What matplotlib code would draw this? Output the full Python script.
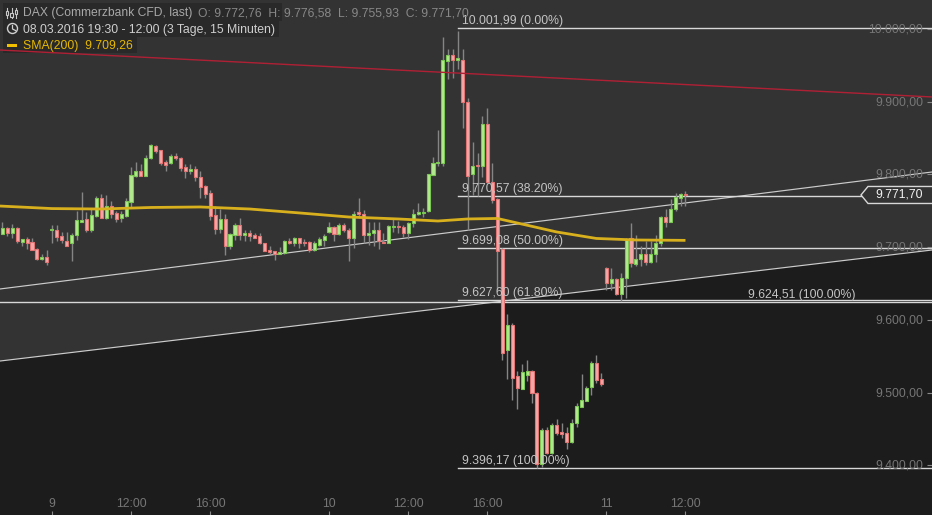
import matplotlib
matplotlib.use('Agg')
from matplotlib import pyplot as plt
from matplotlib.patches import Polygon, Rectangle, Circle
from matplotlib.transforms import ScaledTranslation

plt.rcParams['font.family'] = ['Liberation Sans', 'DejaVu Sans']

# 15 minute candles, one entry per bar
opens = [9718,9726,9719,9726,9707,9711,9707,9698,9683,9687,9724,9724,9715,9709,9705,9716,9735,9738,9723,9743,
         9767,9740,9757,9747,9740,9743,9762,9798,9804,9798,9822,9839,9833,9817,9815,9825,9823,9810,9804,9808,
         9797,9784,9774,9744,9725,9738,9702,9717,9730,9717,9720,9716,9715,9705,9696,9694,9690,9692,9708,9706,
         9712,9707,9707,9696,9703,9710,9721,9728,9718,9730,9723,9713,9748,9745,9717,9720,9724,9707,9706,9727,
         9729,9727,9720,9733,9746,9747,9749,9799,9816,9816,9956,9964,9957,9958,9900,9800,9813,9812,9869,9790,
         9766,9697,9558,9593,9523,9505,9524,9530,9500,9401,9448,9417,9455,9446,9444,9432,9458,9480,9488,9507,
         9541,9519,9671,9651,9656,9635,9657,9713,9677,9683,9691,9679,9691,9705,9741,9735,9753,9768,9772.76]
highs = [9734,9727,9732,9727,9711,9714,9712,9699,9691,9696,9730,9730,9721,9721,9720,9750,9776,9748,9752,9770,
         9773,9772,9764,9749,9749,9767,9810,9817,9814,9827,9842,9840,9834,9820,9828,9830,9824,9814,9814,9812,
         9804,9785,9779,9756,9753,9745,9719,9733,9740,9724,9724,9720,9720,9706,9702,9695,9700,9710,9713,9714,
         9713,9711,9708,9708,9714,9718,9734,9729,9733,9733,9726,9749,9767,9751,9734,9734,9734,9719,9730,9738,
         9736,9730,9735,9752,9761,9754,9801,9824,9861,9989,9973,9972,9997,9972,9905,9844,9829,9880,9891,9815,
         9768,9699,9608,9595,9529,9539,9545,9531,9501,9451,9452,9458,9464,9458,9453,9464,9486,9526,9509,9543,
         9552,9527,9672,9671,9658,9665,9712,9733,9717,9701,9709,9709,9716,9743,9753,9766,9775,9775,9776.58]
lows = [9718,9715,9713,9706,9701,9698,9696,9682,9682,9676,9706,9709,9705,9701,9681,9710,9734,9721,9721,9742,
        9740,9739,9740,9735,9734,9742,9755,9797,9798,9798,9821,9830,9813,9805,9814,9820,9805,9795,9801,9791,
        9768,9767,9737,9718,9719,9689,9698,9710,9710,9708,9708,9712,9704,9695,9690,9682,9690,9691,9704,9702,
        9699,9701,9693,9694,9702,9702,9719,9709,9717,9721,9681,9699,9740,9706,9703,9701,9697,9705,9705,9721,
        9719,9714,9711,9727,9744,9742,9748,9799,9812,9812,9931,9933,9945,9864,9724,9772,9770,9797,9788,9761,
        9641,9545,9519,9490,9477,9505,9516,9486,9396,9398,9416,9416,9442,9437,9422,9431,9452,9480,9488,9497,
        9513,9509,9641,9641,9634,9626,9630,9673,9674,9674,9675,9678,9679,9701,9728,9734,9749,9756,9755.93]
closes = [9726,9719,9726,9709,9711,9706,9696,9683,9687,9679,9725,9714,9710,9701,9716,9737,9737,9723,9744,9768,
          9740,9757,9746,9739,9745,9763,9799,9804,9798,9822,9840,9832,9816,9813,9825,9823,9809,9804,9808,9797,
          9783,9773,9743,9725,9738,9702,9718,9730,9717,9720,9715,9713,9705,9695,9693,9690,9693,9708,9705,9712,
          9705,9706,9696,9705,9711,9715,9727,9718,9731,9723,9713,9746,9745,9717,9720,9724,9708,9706,9729,9729,
          9727,9720,9733,9746,9748,9748,9800,9815,9817,9957,9964,9958,9960,9900,9798,9812,9812,9869,9789,9765,
          9695,9555,9593,9520,9506,9528,9530,9500,9401,9448,9417,9455,9444,9443,9432,9458,9481,9489,9506,9541,
          9517,9512,9651,9656,9635,9657,9711,9678,9683,9691,9679,9691,9705,9741,9734,9753,9769,9773,9771.70]

sma_idx = [-0.5,10,20,30,40,50,60,70,80,88,94,100,104,112,120,128,138]
sma_vals = [9756.5,9753,9752.4,9754.5,9755.2,9752.4,9747,9741.4,9738.7,9735.9,9738.7,9739.4,9733.2,9720.8,9711.9,9709.8,9709.26]

# trend lines, left and right edge of the chart
trend_x = [-0.465, 187.8]
upper_trend = [9642.4, 9803.3]
lower_trend = [9543.3, 9696.0]
red_trend = [9971.1, 9906.5]

# fibonacci levels
fib_start = 92
fib_levels = [10001.99, 9770.57, 9699.08, 9627.60, 9396.17]
fib_labels = ['10.001,99 (0.00%)', '9.770,57 (38.20%)', '9.699,08 (50.00%)', '9.627,60 (61.80%)', '9.396,17 (100.00%)']
ext_level = 9624.51
ext_label = '9.624,51 (100.00%)'
last_close = 9771.70
last_label = '9.771,70'

y_ticks = [10000, 9900, 9800, 9700, 9600, 9500, 9400]
y_labels = ['10.000,00', '9.900,00', '9.800,00', '9.700,00', '9.600,00', '9.500,00', '9.400,00']
x_ticks = [10, 26, 42, 66, 82, 98, 122, 138]
x_labels = ['9', '12:00', '16:00', '10', '12:00', '16:00', '11', '12:00']

BG = '#333333'
BG_DARK = '#1c1c1c'
LINE = '#d8d8d8'
FS = 8.8

fig = plt.figure(figsize=(9.32, 5.15), dpi=100, facecolor=BG)
ax = fig.add_axes([0, 0, 1, 1], facecolor=BG)
ax.set_xlim(-0.465, 187.8)
ax.set_ylim(9331.5, 10039.89)
for s in ax.spines.values():
    s.set_visible(False)

ax.fill_between(trend_x, 9331.5, lower_trend, color=BG_DARK, lw=0, zorder=0)

ax.plot(trend_x, upper_trend, color='#cccccc', lw=0.85, zorder=1)
ax.plot(trend_x, lower_trend, color='#cccccc', lw=0.85, zorder=1)

for lev, lab in zip(fib_levels, fib_labels):
    ax.plot([fib_start, trend_x[1]], [lev, lev], color=LINE, lw=1, zorder=1)
    ax.annotate(lab, (fib_start, lev), xytext=(3, 0.6), textcoords='offset points', color='#c4c4c4',
                fontsize=FS, va='bottom', ha='left', zorder=5)
ax.plot(trend_x, [ext_level, ext_level], color=LINE, lw=1, zorder=1)
ax.annotate(ext_label, (150.6, ext_level), xytext=(0, 0.6), textcoords='offset points', color='#c4c4c4',
            fontsize=FS, va='bottom', ha='left', zorder=5)

# candles
xs = list(range(len(opens)))
for i in xs:
    up = closes[i] >= opens[i]
    edge = '#7cc854' if up else '#e27474'
    fill = '#b4e890' if up else '#f2a8a8'
    ax.vlines(i, lows[i], highs[i], color='#858585', lw=1, zorder=2)
    ax.bar(i, abs(closes[i] - opens[i]), bottom=min(opens[i], closes[i]), width=0.62,
           facecolor=fill, edgecolor=edge, lw=0.8, zorder=3)

ax.plot(sma_idx, sma_vals, color='#d8b01e', lw=2, zorder=4, solid_capstyle='butt')

ax.yaxis.tick_right()
ax.set_yticks(y_ticks)
ax.set_yticklabels(y_labels, fontsize=FS, color='#767676', ha='right')
ax.tick_params(axis='y', direction='in', length=3.5, width=0.8, color='#8a8a8a', pad=-6.5)
up_1px = ScaledTranslation(0, 1 / 100, fig.dpi_scale_trans)
for lab in ax.get_yticklabels():
    lab.set_transform(lab.get_transform() + up_1px)
ax.set_xticks(x_ticks)
ax.set_xticklabels(x_labels, fontsize=FS, color='#767676')
ax.tick_params(axis='x', direction='in', length=3, width=0.8, color='#8a8a8a', pad=-12.5)

# overlay in pixels for legend boxes, icons and the price tag
ov = fig.add_axes([0, 0, 1, 1])
ov.set_xlim(0, 932)
ov.set_ylim(515, 0)
ov.axis('off')
ov.patch.set_alpha(0)

fig.canvas.draw()
tag_y = 515 - ax.transData.transform((0, last_close))[1]
tag = Polygon([(933, tag_y - 8.5), (868, tag_y - 8.5), (861, tag_y), (868, tag_y + 8.5), (933, tag_y + 8.5)],
              closed=False, facecolor=BG, edgecolor=LINE, lw=1, zorder=6)
ov.add_patch(tag)
ov.text(899, tag_y, last_label, color='#f2f2f2', fontsize=FS, ha='center', va='center', zorder=7)

# legend boxes, the red line runs over them
for bx, by, bw, bh in [(3, 3, 279, 18), (3, 21, 276, 16), (3, 37, 134, 16)]:
    ov.add_patch(Rectangle((bx, by), bw, bh, facecolor='#292929', lw=0, zorder=1))
ov.plot(trend_x, red_trend, color='#b02035', lw=1, zorder=2, transform=ax.transData)

ov.text(23, 13.4, 'DAX (Commerzbank CFD, last)', color='#a8a8a8', fontsize=8.7, va='center', zorder=7)
ov.text(197.5, 13.4, 'O: 9.772,76  H: 9.776,58  L: 9.755,93  C: 9.771,70', color='#888888', fontsize=8.7, va='center', zorder=7)
ov.text(23, 29.6, '08.03.2016 19:30 - 12:00 (3 Tage, 15 Minuten)', color='#cfcfcf', fontsize=FS, va='center', zorder=7)
ov.text(23, 45.6, 'SMA(200)  9.709,26', color='#e6b800', fontsize=FS, va='center', zorder=7)

# candle icon
for cx, y0, y1, b0, b1 in [(7, 8, 18, 11, 15), (11.5, 8, 18, 13, 17), (16, 8, 18, 10, 14)]:
    ov.plot([cx, cx], [y0, y1], color='#c8c8c8', lw=0.8, zorder=7)
    ov.add_patch(Rectangle((cx - 1.2, b0), 2.4, b1 - b0, facecolor='#2a2a2a', edgecolor='#c8c8c8', lw=0.8, zorder=8))
# clock icon
ov.add_patch(Circle((12.5, 28.5), 5, facecolor='none', edgecolor='#d0d0d0', lw=1, zorder=7))
ov.plot([12.5, 12.5, 15.5], [25.5, 29, 30.5], color='#d0d0d0', lw=0.9, zorder=7)
# sma swatch
ov.add_patch(Rectangle((7, 43.5), 10, 3, facecolor='#f0c000', lw=0, zorder=7))

plt.savefig('out.png', dpi=100, facecolor=BG)
